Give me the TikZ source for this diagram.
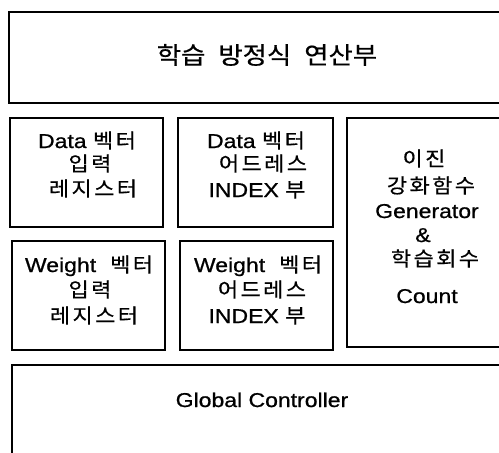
\documentclass[tikz,border=0pt]{standalone}
\usepackage{fontspec}
\setmainfont[FakeStretch=1.15,FakeBold=0.8]{Liberation Sans}
\newfontfamily\kr[FakeStretch=1.1,FakeBold=0.6]{Noto Sans CJK KR}
\newfontfamily\krw[FakeStretch=1.1,FakeBold=0.6,LetterSpace=12]{Noto Sans CJK KR}
\begin{document}
\begin{tikzpicture}[x=1pt,y=-1pt,
  box/.style={draw=black, line width=1.3pt, rectangle, inner sep=0pt, outer sep=0pt, anchor=north west},
  lbl/.style={anchor=base, inner sep=0pt, font=\fontsize{20}{23}\selectfont},
  ttl/.style={anchor=base, inner sep=0pt, font=\fontsize{24}{28}\selectfont}]
\useasboundingbox (0,0) rectangle (499,453);
\clip (0,0) rectangle (499,453);

% blocks
\node[box, minimum width=516, minimum height=91]  (learn) at (9,12)   {};
\node[box, minimum width=153, minimum height=109] (dvin)  at (10,118) {};
\node[box, minimum width=155, minimum height=109] (dvidx) at (178,118) {};
\node[box, minimum width=178, minimum height=229] (gen)   at (347,118) {};
\node[box, minimum width=153, minimum height=109] (wvin)  at (12,241) {};
\node[box, minimum width=153, minimum height=109] (wvidx) at (180,241) {};
\node[box, minimum width=513, minimum height=110] (gc)    at (12,365) {};

% learning equation unit
\node[ttl] (learnT) at (267,64) {\kr 학습\hspace{13pt}방정식\hspace{13pt}연산부};

% data vector input register
\node[lbl] (dvin1) at (87,148) {Data {\krw 벡터}};
\node[lbl] (dvin2) at (90,171) {\krw 입력};
\node[lbl] (dvin3) at (93,196) {\krw 레지스터};

% data vector address index
\node[lbl] (dvidx1) at (256,148) {Data {\krw 벡터}};
\node[lbl] (dvidx2) at (263,171) {\krw 어드레스};
\node[lbl] (dvidx3) at (257,197) {INDEX {\kr 부}};

% binary reinforcement generator and counter
\node[lbl] (gen1) at (424,166) {\krw 이진};
\node[lbl] (gen2) at (431,193) {\krw 강화함수};
\node[lbl] (gen3) at (427,218) {Generator};
\node[lbl] (gen4) at (423,242) {\&};
\node[lbl] (gen5) at (435,266) {\krw 학습회수};
\node[lbl] (gen6) at (427,303) {Count};

% weight vector input register
\node[lbl] (wvin1) at (89,272) {Weight\hspace{14pt}{\krw 벡터}};
\node[lbl] (wvin2) at (90,297) {\krw 입력};
\node[lbl] (wvin3) at (94,323) {\krw 레지스터};

% weight vector address index
\node[lbl] (wvidx1) at (258,272) {Weight\hspace{14pt}{\krw 벡터}};
\node[lbl] (wvidx2) at (262,297) {\krw 어드레스};
\node[lbl] (wvidx3) at (257,323) {INDEX {\kr 부}};

% global controller
\node[lbl] (gcT) at (262,407) {Global Controller};
\end{tikzpicture}
\end{document}
